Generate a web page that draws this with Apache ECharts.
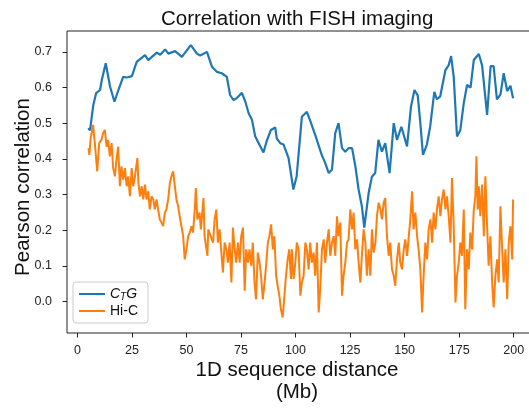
<!DOCTYPE html>
<html>
<head>
<meta charset="utf-8">
<script src="https://cdn.jsdelivr.net/npm/echarts@6/dist/echarts.min.js"></script>
<style>html,body{margin:0;padding:0;background:#fff}#c{width:529px;height:409px}</style>
</head>
<body>
<div id="c"></div>
<script>
// ---- data ----
const ctgDistance = [5.0,5.8,7.3,8.6,10.4,11.2,13.0,15.0,17.0,18.8,21.0,22.6,25.0,27.2,31.0,32.5,36.4,38.0,40.2,41.7,44.8,47.9,52.0,54.8,56.3,59.4,61.7,63.9,66.2,68.5,70.0,71.5,73.0,75.4,77.0,78.5,80.0,81.5,83.8,85.3,86.8,88.7,90.7,91.4,93.0,94.5,96.8,99.0,100.5,102.9,105.2,106.7,109.0,112.0,113.5,115.2,116.7,118.2,119.7,121.3,122.8,124.3,125.9,127.4,128.9,130.4,131.5,133.5,135.0,136.5,138.0,139.6,141.1,143.1,145.0,146.5,148.5,151.1,152.9,154.5,156.0,157.2,158.4,160.2,161.7,163.6,164.8,166.3,168.7,170.2,171.3,172.5,174.0,175.5,177.1,178.6,180.2,181.7,184.0,185.5,187.8,189.4,190.8,192.3,193.9,195.4,197.0,198.5,199.7];
const ctgValues = [0.486,0.480,0.551,0.584,0.593,0.621,0.668,0.602,0.560,0.593,0.630,0.628,0.632,0.672,0.691,0.677,0.698,0.692,0.707,0.695,0.702,0.686,0.719,0.695,0.690,0.700,0.658,0.644,0.640,0.630,0.579,0.565,0.570,0.585,0.560,0.528,0.510,0.463,0.435,0.418,0.450,0.481,0.488,0.457,0.444,0.440,0.402,0.314,0.351,0.518,0.532,0.507,0.467,0.411,0.390,0.360,0.370,0.472,0.500,0.430,0.420,0.430,0.430,0.380,0.314,0.267,0.207,0.304,0.350,0.360,0.453,0.420,0.444,0.360,0.500,0.453,0.490,0.435,0.546,0.593,0.578,0.500,0.411,0.440,0.490,0.588,0.567,0.575,0.649,0.663,0.688,0.630,0.463,0.480,0.556,0.607,0.600,0.677,0.694,0.662,0.523,0.660,0.660,0.567,0.580,0.640,0.590,0.605,0.570];

const hicDistance = [5.1,5.5,6.1,6.8,7.2,8.0,9.1,10.0,11.0,11.8,12.6,13.4,14.1,14.9,15.7,16.4,17.2,17.9,18.7,19.5,20.2,21.0,21.8,22.6,23.3,24.1,24.9,25.6,26.4,27.5,28.0,28.7,29.5,30.2,31.0,31.7,32.5,33.2,34.0,34.8,35.5,36.3,37.0,37.8,38.6,39.3,40.1,40.8,41.6,42.4,43.1,43.9,44.7,45.4,46.2,46.9,47.7,48.5,49.2,50.0,50.8,51.5,52.3,53.0,53.8,54.3,55.0,56.0,56.6,57.8,58.3,59.6,60.0,61.1,62.2,62.9,63.7,64.4,65.2,66.0,66.7,67.5,68.3,69.0,69.8,70.6,71.3,72.1,72.8,73.6,74.4,75.1,75.9,76.7,77.4,78.2,78.9,79.7,80.4,81.2,81.9,82.7,83.5,84.2,85.0,85.8,86.5,87.3,88.0,88.8,89.6,90.3,91.1,91.8,92.6,93.3,94.1,94.9,95.6,96.4,97.1,97.9,
  98.3,99.1,99.9,100.6,101.4,102.2,102.9,103.7,104.5,105.2,106.0,106.7,107.5,108.3,109.0,109.8,110.6,111.3,112.1,112.9,113.6,114.4,115.2,115.9,116.7,117.5,118.2,119.0,119.7,120.5,121.3,122.0,122.8,123.6,124.3,125.1,125.9,126.6,127.4,128.2,128.9,129.7,130.4,131.2,132.0,132.7,133.5,134.3,135.0,135.8,136.6,137.3,138.1,138.9,139.6,140.4,141.1,141.9,142.7,143.4,144.2,145.0,145.7,146.5,147.3,148.0,148.8,149.6,150.3,151.1,151.9,152.6,153.4,154.1,154.9,155.7,156.4,157.2,158.0,158.7,159.5,160.3,161.0,161.8,162.6,163.3,164.1,164.8,165.6,166.4,167.1,167.9,168.7,169.4,170.2,171.0,171.7,172.5,173.3,174.0,174.8,175.5,176.3,177.1,177.8,178.6,179.4,180.1,180.9,181.7,182.4,182.9,183.5,184.0,184.7,185.5,186.3,187.0,187.8,188.5,189.3,190.1,190.8,191.6,192.4,193.1,193.9,194.7,195.4,196.2,197.0,197.7,198.5,199.3,199.7];
const hicValues = [0.430,0.411,0.458,0.481,0.495,0.444,0.365,0.444,0.453,0.472,0.481,0.434,0.453,0.407,0.444,0.374,0.351,0.397,0.434,0.323,0.379,0.342,0.374,0.323,0.351,0.295,0.374,0.323,0.351,0.402,0.332,0.295,0.323,0.286,0.328,0.286,0.309,0.258,0.295,0.286,0.258,0.286,0.258,0.230,0.221,0.211,0.249,0.258,0.286,0.332,0.351,0.365,0.323,0.286,0.267,0.239,0.211,0.183,0.118,0.146,0.183,0.193,0.211,0.193,0.258,0.318,0.230,0.249,0.202,0.290,0.183,0.128,0.202,0.183,0.165,0.230,0.258,0.165,0.202,0.137,0.081,0.165,0.146,0.109,0.165,0.053,0.207,0.146,0.109,0.165,0.109,0.183,0.207,0.030,0.146,0.109,0.146,0.100,0.165,0.053,0.006,0.137,0.109,0.072,0.006,0.053,0.100,0.165,0.183,0.216,0.146,0.183,0.072,0.044,0.016,-0.022,-0.045,0.016,0.072,0.118,0.146,0.063,
  0.146,0.063,0.109,0.165,0.146,0.016,0.053,0.072,0.165,0.146,0.090,0.165,0.109,0.137,0.072,0.165,-0.031,0.035,0.146,0.174,0.109,0.165,0.202,0.128,0.165,0.183,0.128,0.239,0.183,0.221,0.016,0.072,0.109,0.165,0.174,0.258,0.202,0.249,0.146,0.174,0.109,0.053,0.128,0.202,0.165,0.072,0.146,0.072,0.202,0.137,0.165,0.239,0.277,0.258,0.230,0.277,0.290,0.183,0.128,0.165,0.090,0.072,0.044,0.118,0.165,0.109,0.090,0.146,0.174,0.128,0.183,0.230,0.309,0.202,0.249,0.183,0.146,0.090,-0.031,0.072,0.165,0.118,0.202,0.230,0.165,0.249,0.202,0.258,0.295,0.239,0.286,0.314,0.258,0.295,0.239,0.165,0.346,0.211,-0.003,0.072,0.109,0.165,0.128,0.258,-0.022,0.146,0.090,0.193,0.146,0.258,0.295,0.407,0.258,0.323,0.239,0.328,0.183,0.351,0.211,0.100,0.183,0.053,-0.017,0.072,0.118,0.053,0.267,0.146,0.053,0.146,0.006,0.165,0.211,0.118,0.286];

const xTicks = [0, 25, 50, 75, 100, 125, 150, 175, 200];
const yTicks = [0, 0.1, 0.2, 0.3, 0.4, 0.5, 0.6, 0.7];
const seriesNames = ['CTG', 'Hi-C'];

// ---- chart ----
const FONT = '"Liberation Sans", Arial, sans-serif';
const chart = echarts.init(document.getElementById('c'), null, {renderer: 'canvas'});
const pairs = (xs, ys) => xs.map((x, i) => [x, ys[i]]);

chart.setOption({
  animation: false,
  backgroundColor: '#ffffff',
  textStyle: {fontFamily: FONT},
  title: {
    text: 'Correlation with FISH imaging',
    left: 156, top: 4,
    textStyle: {fontFamily: FONT, fontSize: 20.5, fontWeight: 'normal', color: '#111'}
  },
  grid: {
    left: 67, top: 31, width: 468, height: 302,
    containLabel: false, outerBoundsMode: 'none',
    show: true, borderColor: '#222', borderWidth: 1, backgroundColor: 'transparent'
  },
  legend: {
    orient: 'vertical', left: 73, top: 282,
    data: seriesNames,
    icon: 'rect', itemWidth: 26, itemHeight: 2,
    itemGap: 2,
    padding: [5, 10, 5, 6],
    borderColor: '#cccccc', borderWidth: 1, borderRadius: 3,
    backgroundColor: 'rgba(255,255,255,0.8)',
    textStyle: {
      fontFamily: FONT, fontSize: 14, color: '#111',
      rich: {
        it: {fontFamily: FONT, fontSize: 14, fontStyle: 'italic', color: '#111'},
        sub: {fontFamily: FONT, fontSize: 10, fontStyle: 'italic', color: '#111', padding: [6, 0, 0, 0]}
      }
    },
    formatter: name => name === 'CTG' ? '{it|C}{sub|T}{it|G}' : name
  },
  xAxis: {
    type: 'value', min: -4.75, max: 209.75,
    name: '1D sequence distance\n(Mb)', nameLocation: 'middle', nameGap: 26, nameMoveOverlap: false,
    nameTextStyle: {fontFamily: FONT, fontSize: 20.5, color: '#111', lineHeight: 22, verticalAlign: 'top',
      padding: [0, 8, 0, 0]},
    axisLine: {show: false, onZero: false},
    axisTick: {show: true, inside: false, length: 4.5, customValues: xTicks, lineStyle: {color: '#222'}},
    axisLabel: {customValues: xTicks, fontFamily: FONT, fontSize: 12.5, color: '#222', margin: 11},
    splitLine: {show: false}
  },
  yAxis: {
    type: 'value', min: -0.0885, max: 0.7585,
    name: 'Pearson correlation', nameLocation: 'middle', nameGap: 33, nameMoveOverlap: false,
    nameTextStyle: {fontFamily: FONT, fontSize: 20.5, color: '#111', padding: [0, 10, 0, 0]},
    axisLine: {show: false, onZero: false},
    axisTick: {show: true, inside: false, length: 4.5, customValues: yTicks, lineStyle: {color: '#222'}},
    axisLabel: {customValues: yTicks, fontFamily: FONT, fontSize: 12.5, color: '#222', margin: 15,
      formatter: v => v.toFixed(1)},
    splitLine: {show: false}
  },
  series: [
    {name: 'CTG', type: 'line', data: pairs(ctgDistance, ctgValues), showSymbol: false, symbol: 'none',
      lineStyle: {color: '#1f77b4', width: 2.2}, itemStyle: {color: '#1f77b4'}, z: 3},
    {name: 'Hi-C', type: 'line', data: pairs(hicDistance, hicValues), showSymbol: false, symbol: 'none',
      lineStyle: {color: '#ff7f0e', width: 2}, itemStyle: {color: '#ff7f0e'}, z: 2}
  ]
});
</script>
</body>
</html>
